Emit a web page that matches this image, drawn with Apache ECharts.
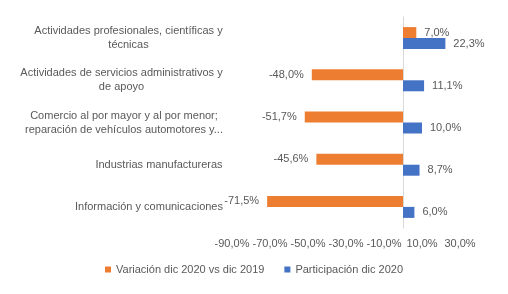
<!DOCTYPE html>
<html lang="es">
<head>
   <meta charset="utf-8">
   <title>Variación y participación por actividad</title>
   <script src="https://cdn.jsdelivr.net/npm/echarts@6.0.0/dist/echarts.min.js"></script>
   <style>
      html, body { margin: 0; padding: 0; background: #fff; }
      #chart { width: 508px; height: 294px; }
   </style>
</head>
<body>
   <div id="chart"></div>
   <script>
      var categories = [
         'Actividades profesionales, científicas y\ntécnicas',
         'Actividades de servicios administrativos y\nde apoyo',
         'Comercio al por mayor y al por menor;\nreparación de vehículos automotores y...',
         'Industrias manufactureras',
         'Información y comunicaciones'
      ];
      var seriesNames = ['Variación dic 2020 vs dic 2019', 'Participación dic 2020'];
      var variacion = [7.0, -48.0, -51.7, -45.6, -71.5];
      var participacion = [22.3, 11.1, 10.0, 8.7, 6.0];
      var tickValues = [-90, -70, -50, -30, -10, 10, 30];

      var textColor = '#595959';
      var fontFamily = 'Liberation Sans, sans-serif';

      function fmt(v) {
         return v.toFixed(1).replace('.', ',') + '%';
      }

      function toItems(arr) {
         return arr.map(function (v) {
            return { value: v, label: { position: v < 0 ? 'left' : 'right' } };
         });
      }

      // width of the widest line of each category, so the lines can be centred in their block
      var ctx = document.createElement('canvas').getContext('2d');
      ctx.font = '11px ' + fontFamily;
      var rich = {};
      categories.forEach(function (c, i) {
         var w = Math.max.apply(null, c.split('\n').map(function (l) { return ctx.measureText(l).width; }));
         rich['c' + i] = { width: Math.ceil(w), align: 'center', color: textColor, fontSize: 11, fontFamily: fontFamily, lineHeight: 14 };
      });

      var chart = echarts.init(document.getElementById('chart'), null, { renderer: 'canvas' });

      var labelStyle = {
         show: true,
         distance: 8,
         color: textColor,
         fontSize: 11,
         fontFamily: fontFamily,
         formatter: function (p) { return fmt(p.value); }
      };

      var option = {
         animation: false,
         color: ['#ED7D31', '#4472C4'],
         grid: { left: 232, right: 48, top: 17, bottom: 66, containLabel: false, outerBoundsMode: 'none' },
         legend: {
            bottom: 14,
            left: 'center',
            itemWidth: 6,
            itemHeight: 6,
            itemGap: 20,
            icon: 'rect',
            textStyle: { color: textColor, fontSize: 11, fontFamily: fontFamily },
            data: seriesNames
         },
         xAxis: {
            type: 'value',
            min: -90,
            max: 30,
            axisLine: { show: false },
            axisTick: { show: false },
            splitLine: { show: false },
            axisLabel: {
               customValues: tickValues,
               color: textColor,
               fontSize: 11,
               fontFamily: fontFamily,
               margin: 10,
               formatter: function (v) { return fmt(v); }
            }
         },
         yAxis: {
            type: 'category',
            inverse: true,
            data: categories,
            axisLine: { show: true, onZero: true, lineStyle: { color: '#d9d9d9' } },
            axisTick: { show: false },
            axisLabel: {
               margin: 9,
               color: textColor,
               fontSize: 11,
               fontFamily: fontFamily,
               lineHeight: 14,
               formatter: function (v, i) {
                  return v.split('\n').map(function (l) { return '{c' + i + '|' + l + '}'; }).join('\n');
               },
               rich: rich
            }
         },
         series: [
            {
               name: seriesNames[0],
               type: 'bar',
               barWidth: 11,
               barGap: '0%',
               data: toItems(variacion),
               label: labelStyle
            },
            {
               name: seriesNames[1],
               type: 'bar',
               barWidth: 11,
               barGap: '0%',
               data: toItems(participacion),
               label: labelStyle
            }
         ]
      };

      chart.setOption(option);
   </script>
</body>
</html>
